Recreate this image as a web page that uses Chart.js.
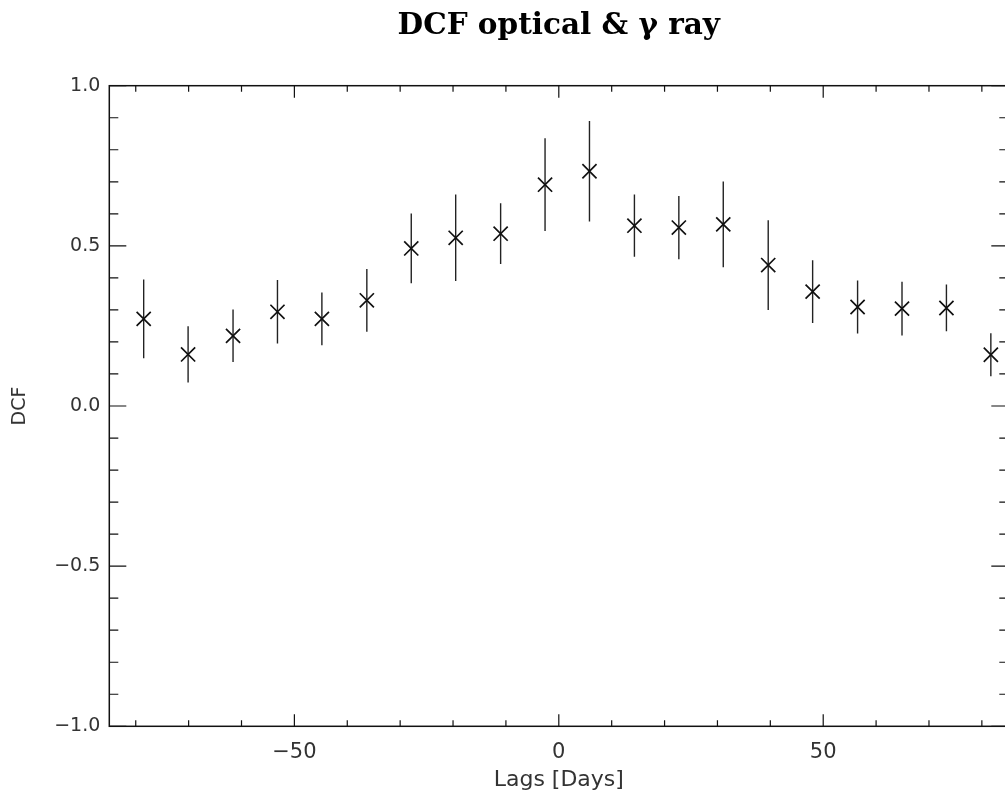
<!DOCTYPE html>
<html>
<head>
<meta charset="utf-8">
<script src="https://cdn.jsdelivr.net/npm/chart.js@4.4.1/dist/chart.umd.min.js"></script>
<style>
  html, body { margin: 0; padding: 0; background: #fff; overflow: hidden; }
  .wrap { position: relative; width: 1020px; height: 800px; }
</style>
</head>
<body>
<div class="wrap"><canvas id="dcfChart"></canvas></div>
<script>
// lag in days, DCF value and its error
const lags = [-78.5, -70.1, -61.6, -53.2, -44.8, -36.3, -27.9, -19.5, -11.0, -2.6,
              5.8, 14.3, 22.7, 31.1, 39.6, 48.0, 56.5, 64.9, 73.3, 81.7];
const dcf = [0.272, 0.161, 0.219, 0.294, 0.272, 0.330, 0.492, 0.525, 0.538, 0.691,
             0.733, 0.563, 0.557, 0.567, 0.440, 0.357, 0.309, 0.304, 0.306, 0.160];
const dcfErr = [0.123, 0.088, 0.082, 0.099, 0.082, 0.098, 0.109, 0.135, 0.095, 0.145,
                0.157, 0.097, 0.099, 0.134, 0.140, 0.098, 0.083, 0.084, 0.073, 0.067];

const xTicks = [-50, 0, 50];
const yTicks = [-1.0, -0.5, 0.0, 0.5, 1.0];
const xMinorStep = 10;
const yMinorStep = 0.1;

const ink = '#111';
const labelFont = '"DejaVu Sans", "Liberation Sans", sans-serif';

const points = lags.map((x, i) => ({ x: x, y: dcf[i] }));

// vertical error bars as short line pieces with gaps between them
const errSegments = [];
lags.forEach((x, i) => {
    errSegments.push({ x: x, y: dcf[i] - dcfErr[i] });
    errSegments.push({ x: x, y: dcf[i] + dcfErr[i] });
    errSegments.push({ x: x, y: null });
});

const withMinus = (v, digits) => {
    const s = Math.abs(v).toFixed(digits);
    return v < 0 ? '\u2212' + s : s;
};

// IDL style box with inward ticks on all four sides
const boxTicks = {
    id: 'boxTicks',
    afterDraw(chart) {
        const { ctx, chartArea: a, scales: { x, y } } = chart;
        ctx.save();
        ctx.strokeStyle = ink;
        ctx.lineWidth = 1.5;
        ctx.strokeRect(a.left, a.top, a.right - a.left, a.bottom - a.top);
        ctx.lineWidth = 1.2;
        ctx.beginPath();
        for (let v = Math.ceil(x.min / xMinorStep) * xMinorStep; v <= x.max; v += xMinorStep) {
            const px = x.getPixelForValue(v);
            const len = xTicks.includes(v) ? 12 : 6;
            ctx.moveTo(px, a.bottom); ctx.lineTo(px, a.bottom - len);
            ctx.moveTo(px, a.top); ctx.lineTo(px, a.top + len);
        }
        for (let k = -10; k <= 10; k++) {
            const py = y.getPixelForValue(k * yMinorStep);
            const len = (k % 5 === 0) ? 17 : 9;
            ctx.moveTo(a.left, py); ctx.lineTo(a.left + len, py);
            ctx.moveTo(a.right, py); ctx.lineTo(a.right - len, py);
        }
        ctx.stroke();
        ctx.restore();
    }
};

new Chart(document.getElementById('dcfChart'), {
    type: 'scatter',
    data: {
        datasets: [
            {
                type: 'line',
                data: errSegments,
                showLine: true,
                spanGaps: false,
                borderColor: '#222',
                borderWidth: 1.4,
                pointRadius: 0,
                order: 2
            },
            {
                data: points,
                pointStyle: 'crossRot',
                pointRadius: 10,
                borderColor: ink,
                borderWidth: 1.7,
                order: 1
            }
        ]
    },
    options: {
        responsive: true,
        maintainAspectRatio: false,
        animation: false,
        layout: { padding: { left: 0, right: 10, top: 0, bottom: 0 } },
        plugins: {
            legend: { display: false },
            tooltip: { enabled: false },
            title: {
                display: true,
                fullSize: false,
                text: 'DCF optical & \u03b3 ray',
                color: '#000',
                font: { family: '"DejaVu Serif", serif', size: 29.5, weight: 'bold', lineHeight: 1.2 },
                padding: { top: 9, bottom: 41.3 }
            }
        },
        scales: {
            x: {
                type: 'linear',
                min: -85,
                max: 85,
                grid: { display: false, drawTicks: false },
                border: { display: false },
                afterFit(scale) { scale.height = 73.7; },
                afterBuildTicks(scale) { scale.ticks = xTicks.map(v => ({ value: v })); },
                ticks: {
                    color: '#333',
                    padding: 14,
                    maxRotation: 0,
                    font: { family: labelFont, size: 21 },
                    callback: v => withMinus(v, 0)
                },
                title: {
                    display: true,
                    text: 'Lags [Days]',
                    color: '#333',
                    font: { family: labelFont, size: 22 },
                    padding: { top: 0, bottom: 7 }
                }
            },
            y: {
                type: 'linear',
                min: -1,
                max: 1,
                grid: { display: false, drawTicks: false },
                border: { display: false },
                afterFit(scale) { scale.width = 109.3; },
                afterBuildTicks(scale) { scale.ticks = yTicks.map(v => ({ value: v })); },
                ticks: {
                    color: '#333',
                    padding: 9,
                    font: { family: labelFont, size: 19 },
                    callback: v => withMinus(v, 1)
                },
                title: {
                    display: true,
                    text: 'DCF',
                    color: '#333',
                    font: { family: labelFont, size: 19 },
                    padding: { top: 8.6, bottom: 0 }
                }
            }
        }
    },
    plugins: [boxTicks]
});
</script>
</body>
</html>
